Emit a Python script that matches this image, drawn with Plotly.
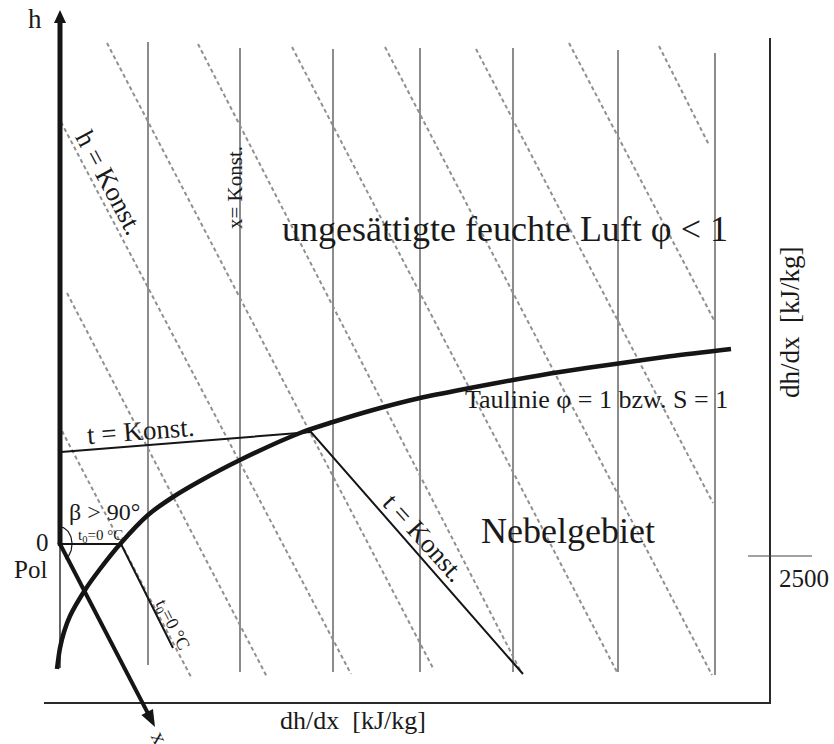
import numpy as np
import plotly.graph_objects as go

# Schematic h,x-diagram for humid air (Mollier), drawn on a 834 x 744 canvas
# whose units run left->right and top->bottom.

# lines of constant water content (x = Konst.)
x_const_pos = [148, 240, 333, 420, 513, 618, 715]
x_const_top = [42, 48, 49, 48, 48, 50, 53]
x_const_bot = [665, 672, 672, 672, 672, 672, 675]

# lines of constant enthalpy (h = Konst.): start and end points
h_const_x0 = [61, 67, 62, 107, 198, 292, 385, 476, 569, 659]
h_const_y0 = [122, 293, 431, 43, 44, 47, 47, 49, 43, 46]
h_const_x1 = [351, 267, 191, 434, 521, 617, 712, 713, 714, 709]
h_const_y1 = [674, 677, 677, 670, 672, 672, 675, 503, 320, 145]

# saturation line (Taulinie, phi = 1)
sat_x = [57, 60, 64, 70, 85, 100, 121, 148, 173, 200, 240, 300, 333, 373, 420, 470, 513, 560, 615, 670, 731]
sat_y = [669, 648, 632, 616, 590, 569, 543, 515, 497, 481, 460, 433, 422, 410, 398, 388, 380, 372, 364, 356.3, 349]

# isotherm t = Konst.: unsaturated branch and fog branch
iso_x = [61, 311, 523]
iso_y = [452, 432, 674]

# isotherm t0 = 0 degC: horizontal from the pole, then fog branch
t0_x = [60, 121, 173]
t0_y = [544, 544, 648]

# pole and axes
pole = (60, 544)
h_axis_top = 10
x_axis_tip = (155, 727)
frame_left, frame_right, frame_bottom, frame_top = 44, 770, 703, 38
tick_2500_y = 556
tick_2500_x = [748, 812]

fig = go.Figure()

GRAY = "#8c8c8c"
INK = "#151515"

# x = Konst. lines
for x, y0, y1 in zip(x_const_pos, x_const_top, x_const_bot):
    fig.add_trace(go.Scatter(x=[x, x], y=[y0, y1], mode="lines",
                             line=dict(color=GRAY, width=2), hoverinfo="skip"))

# h = Konst. lines (dashed)
for xa, ya, xb, yb in zip(h_const_x0, h_const_y0, h_const_x1, h_const_y1):
    fig.add_trace(go.Scatter(x=[xa, xb], y=[ya, yb], mode="lines",
                             line=dict(color="#909090", width=2, dash="4px,3px"),
                             hoverinfo="skip"))

# isotherms
fig.add_trace(go.Scatter(x=iso_x, y=iso_y, mode="lines",
                         line=dict(color=INK, width=2), hoverinfo="skip"))
fig.add_trace(go.Scatter(x=t0_x, y=t0_y, mode="lines",
                         line=dict(color=INK, width=2), hoverinfo="skip"))

# thin vertical below the pole
fig.add_trace(go.Scatter(x=[pole[0], pole[0]], y=[pole[1], 668], mode="lines",
                         line=dict(color="#333333", width=1.5), hoverinfo="skip"))

# saturation line
fig.add_trace(go.Scatter(x=sat_x, y=sat_y, mode="lines",
                         line=dict(color=INK, width=4.5, shape="spline", smoothing=0.8),
                         hoverinfo="skip"))

# frame: bottom and right axis
fig.add_trace(go.Scatter(x=[frame_left, frame_right, frame_right],
                         y=[frame_bottom, frame_bottom, frame_top], mode="lines",
                         line=dict(color="#2a2a2a", width=2), hoverinfo="skip"))
fig.add_trace(go.Scatter(x=tick_2500_x, y=[tick_2500_y, tick_2500_y], mode="lines",
                         line=dict(color="#444444", width=1.2), hoverinfo="skip"))

# h axis (thick) with arrowhead
head_len, head_half = 13, 6
fig.add_trace(go.Scatter(x=[pole[0], pole[0]], y=[pole[1], h_axis_top + head_len - 1],
                         mode="lines", line=dict(color=INK, width=5), hoverinfo="skip"))
fig.add_shape(type="path", xref="x", yref="y", line=dict(width=0), fillcolor=INK,
              path=f"M {pole[0]},{h_axis_top} L {pole[0]-head_half},{h_axis_top+head_len} "
                   f"L {pole[0]+head_half},{h_axis_top+head_len} Z")

# x axis (oblique) with arrowhead
d = np.array(x_axis_tip, float) - np.array(pole, float)
u = d / np.linalg.norm(d)
n = np.array([-u[1], u[0]])
tip = np.array(x_axis_tip, float)
base = tip - 17 * u
fig.add_trace(go.Scatter(x=[pole[0], base[0] + 2 * u[0]], y=[pole[1], base[1] + 2 * u[1]],
                         mode="lines", line=dict(color=INK, width=4), hoverinfo="skip"))
p1, p2 = base + 6.5 * n, base - 6.5 * n
fig.add_shape(type="path", xref="x", yref="y", line=dict(width=0), fillcolor=INK,
              path=f"M {tip[0]},{tip[1]} L {p1[0]},{p1[1]} L {p2[0]},{p2[1]} Z")

# angle arc beta between h axis and x axis
ang_end = np.degrees(np.arctan2(d[1], d[0]))
th = np.radians(np.linspace(-90, ang_end, 40))
fig.add_trace(go.Scatter(x=pole[0] + 12 * np.cos(th), y=pole[1] + 17 * np.sin(th),
                         mode="lines", line=dict(color=INK, width=1.2), hoverinfo="skip"))

# pole point
fig.add_trace(go.Scatter(x=[pole[0]], y=[pole[1]], mode="markers",
                         marker=dict(color=INK, size=5), hoverinfo="skip"))

SERIF = "Liberation Serif"


def label(x, y, text, size, angle=0, color="#1a1a1a"):
    fig.add_annotation(x=x, y=y, xref="x", yref="y", text=text, showarrow=False,
                       textangle=angle, font=dict(family=SERIF, size=size, color=color),
                       xanchor="center", yanchor="middle", borderpad=0)


label(35, 19, "h", 27)
label(109, 182, "h = Konst.", 27, 62)
label(235, 188, "x= Konst.", 21, -90)
label(505, 229, "ungesättigte feuchte Luft φ < 1", 36)
label(790, 322, "dh/dx  [kJ/kg]", 27, -90)
label(596, 399, "Taulinie φ = 1 bzw. S = 1", 26)
label(141, 431, "t = Konst.", 27, -4.5)
label(104, 512, "β > 90°", 24)
label(100, 536, "t<sub>0</sub>=0 °C", 15)
label(42, 542, "0", 25)
label(30, 569, "Pol", 25)
label(568, 531, "Nebelgebiet", 36)
label(424, 538, "t = Konst.", 27, 48)
label(804, 578, "2500", 25)
label(172, 625, "t<sub>0</sub>=0 °C", 18, 63)
label(353, 720, "dh/dx  [kJ/kg]", 26)
label(160, 737, "x", 22, 64)

fig.update_layout(
    width=834, height=744,
    margin=dict(l=0, r=0, t=0, b=0),
    paper_bgcolor="white", plot_bgcolor="white",
    showlegend=False,
    xaxis=dict(range=[0, 834], visible=False, fixedrange=True),
    yaxis=dict(range=[744, 0], visible=False, fixedrange=True),
)

fig.write_html("out.html")
